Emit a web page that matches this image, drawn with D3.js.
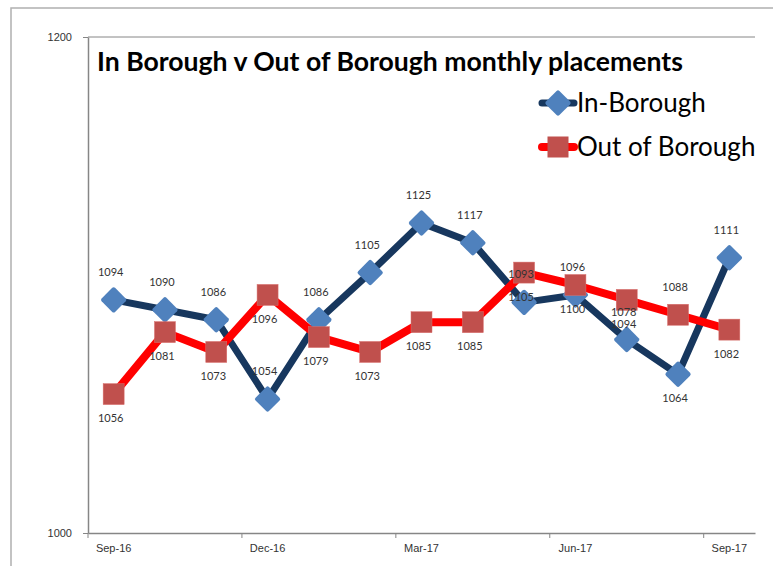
<!DOCTYPE html>
<html>
<head>
<meta charset="utf-8">
<script src="https://cdn.jsdelivr.net/npm/d3@7"></script>
<style>
  body { margin: 0; background: #fff; }
  svg { display: block; font-family: Lato, "Open Sans", sans-serif; }
  .axis path, .axis line { stroke: #868686; }
  .axis text { fill: #333; font-size: 11px; }
</style>
</head>
<body>
<div id="chart"></div>
<script>
const months = ["Sep-16", "Oct-16", "Nov-16", "Dec-16", "Jan-17", "Feb-17", "Mar-17",
                "Apr-17", "May-17", "Jun-17", "Jul-17", "Aug-17", "Sep-17"];
const inBorough = [1094, 1090, 1086, 1054, 1086, 1105, 1125, 1117, 1093, 1096, 1078, 1064, 1111];
const outBorough = [1056, 1081, 1073, 1096, 1079, 1073, 1085, 1085, 1105, 1100, 1094, 1088, 1082];
// label side per point (Excel put them where it wanted)
const inLabelPos = ["up", "up", "up", "up", "up", "up", "up", "up", "up", "up", "up", "down", "up"];
const outLabelPos = ["down", "down", "down", "down", "down", "down", "down", "down", "down", "down", "down", "up", "down"];
const yTicks = [1000, 1200];
const xLabelEvery = 3;

const W = 773, H = 566;
const margin = { top: 37, right: 18, bottom: 33, left: 88 };
const width = W - margin.left - margin.right;
const height = H - margin.top - margin.bottom;

const svg = d3.select("#chart").append("svg")
    .attr("width", W)
    .attr("height", H);

// outer chart frame
svg.append("rect")
    .attr("x", 11).attr("y", 8)
    .attr("width", 800).attr("height", 600)
    .attr("fill", "none")
    .attr("stroke", "#b0b0b0")
    .attr("stroke-width", 1.5);

const g = svg.append("g")
    .attr("transform", "translate(" + margin.left + "," + margin.top + ")");

const x = d3.scaleBand().domain(months).range([0, width]).padding(0);
const y = d3.scaleLinear().domain([1000, 1200]).range([height, 0]);
const cx = d => x(d) + x.bandwidth() / 2;

// gridline at the top value
g.selectAll(".grid")
    .data(yTicks.slice(1))
    .enter().append("line")
    .attr("class", "grid")
    .attr("x1", 0).attr("x2", width)
    .attr("y1", d => y(d)).attr("y2", d => y(d))
    .attr("stroke", "#868686");

// x axis: labels centred on categories, ticks on boundaries
const xAxis = d3.axisBottom(x)
    .tickValues(months.filter((m, i) => i % xLabelEvery === 0))
    .tickSize(0)
    .tickPadding(11);
const xg = g.append("g")
    .attr("class", "x axis")
    .attr("transform", "translate(0," + height + ")")
    .call(xAxis);
xg.select(".domain").attr("stroke-width", 1.5);
xg.selectAll(".bound")
    .data(months.filter((m, i) => i % xLabelEvery === 0))
    .enter().append("line")
    .attr("class", "bound")
    .attr("x1", d => x(d)).attr("x2", d => x(d))
    .attr("y1", 0).attr("y2", 5)
    .attr("stroke", "#868686");

const yAxis = d3.axisLeft(y)
    .tickValues(yTicks)
    .tickSize(5)
    .tickSizeOuter(0)
    .tickPadding(11)
    .tickFormat(d3.format("d"));
const yg = g.append("g")
    .attr("class", "y axis")
    .call(yAxis);
yg.select(".domain").attr("stroke-width", 1.5);

// lines
const line = d3.line()
    .x((d, i) => cx(months[i]))
    .y(d => y(d));

g.append("path")
    .attr("d", line(inBorough))
    .attr("fill", "none")
    .attr("stroke", "#17375e")
    .attr("stroke-width", 7)
    .attr("stroke-linejoin", "round");

g.append("path")
    .attr("d", line(outBorough))
    .attr("fill", "none")
    .attr("stroke", "#ff0000")
    .attr("stroke-width", 8)
    .attr("stroke-linejoin", "round");

// markers
const dia = 19, sq = 21;
g.selectAll(".inDot")
    .data(inBorough)
    .enter().append("rect")
    .attr("class", "inDot")
    .attr("x", -dia / 2).attr("y", -dia / 2)
    .attr("width", dia).attr("height", dia)
    .attr("rx", 2)
    .attr("fill", "#4f81bd")
    .attr("transform", (d, i) => "translate(" + cx(months[i]) + "," + y(d) + ") rotate(45)");

g.selectAll(".outDot")
    .data(outBorough)
    .enter().append("rect")
    .attr("class", "outDot")
    .attr("x", (d, i) => cx(months[i]) - sq / 2)
    .attr("y", d => y(d) - sq / 2)
    .attr("width", sq).attr("height", sq)
    .attr("fill", "#c0504d")
    .attr("stroke", "#d9716e")
    .attr("stroke-width", 0.5);

// data labels
function labels(data, pos, cls) {
    g.selectAll("." + cls)
        .data(data)
        .enter().append("text")
        .attr("class", cls)
        .attr("x", (d, i) => cx(months[i]) - 3)
        .attr("y", (d, i) => y(d) + (pos[i] === "up" ? -24 : 28))
        .attr("text-anchor", "middle")
        .attr("font-size", 11)
        .attr("fill", "#333")
        .text(d => d);
}
labels(inBorough, inLabelPos, "inLbl");
labels(outBorough, outLabelPos, "outLbl");

// title
const title = svg.append("text")
    .attr("x", 97).attr("y", 71)
    .attr("font-size", 23)
    .attr("font-weight", "bold")
    .attr("fill", "#000")
    .text("In Borough v Out of Borough monthly placements");
const tw = title.node().getComputedTextLength();
title.attr("font-size", 23 * 586 / tw);

// legend
const legend = svg.append("g").attr("transform", "translate(540,0)");
const items = [
    { name: "In-Borough", color: "#17375e", fill: "#4f81bd", shape: "diamond", y: 103 },
    { name: "Out of Borough", color: "#ff0000", fill: "#c0504d", shape: "square", y: 147 }
];
items.forEach(it => {
    legend.append("line")
        .attr("x1", 2).attr("x2", 34)
        .attr("y1", it.y).attr("y2", it.y)
        .attr("stroke", it.color)
        .attr("stroke-width", it.shape === "diamond" ? 7 : 8)
        .attr("stroke-linecap", "round");
    if (it.shape === "diamond") {
        legend.append("rect")
            .attr("x", -dia / 2).attr("y", -dia / 2)
            .attr("width", dia).attr("height", dia).attr("rx", 2)
            .attr("fill", it.fill)
            .attr("transform", "translate(18," + it.y + ") rotate(45)");
    } else {
        legend.append("rect")
            .attr("x", 18 - sq / 2).attr("y", it.y - sq / 2)
            .attr("width", sq).attr("height", sq)
            .attr("fill", it.fill);
    }
    legend.append("text")
        .attr("x", 37).attr("y", it.y + 9)
        .attr("font-size", 26)
        .attr("fill", "#000")
        .text(it.name);
});
</script>
</body>
</html>
